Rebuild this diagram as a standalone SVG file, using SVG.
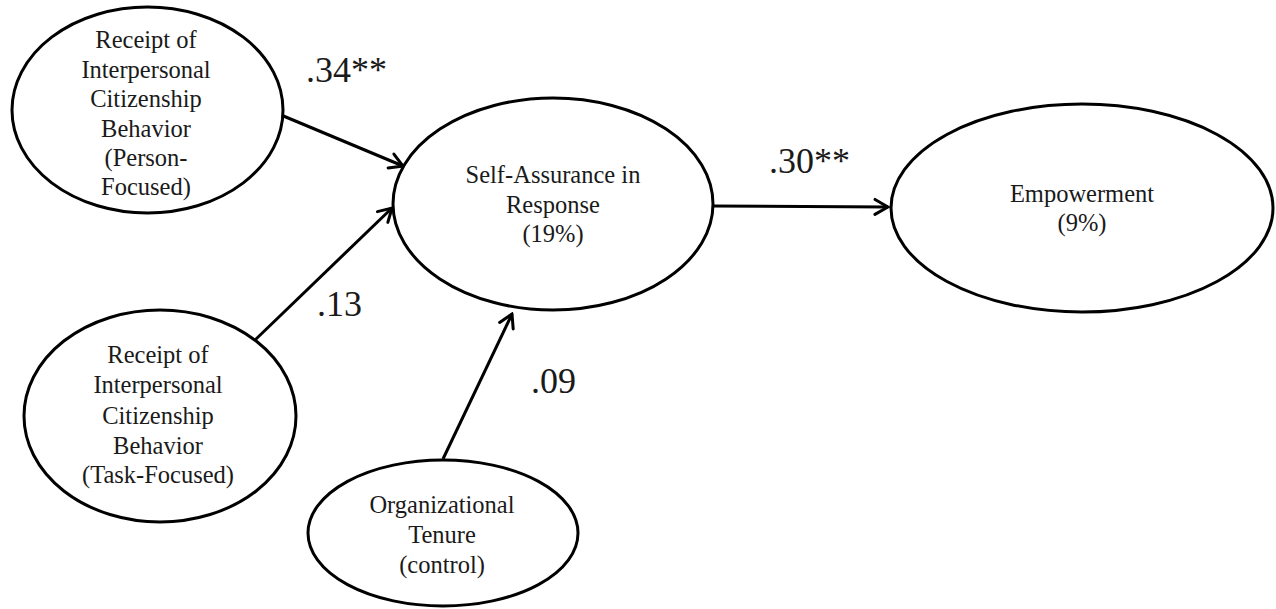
<svg xmlns="http://www.w3.org/2000/svg" width="1276" height="609" viewBox="0 0 1276 609">
  <style>
    .node ellipse { fill: #ffffff; stroke: #000000; stroke-width: 3; }
    .node text { font-family: "Liberation Serif", "Times New Roman", serif; font-size: 24.5px; fill: #1a1a1a; text-anchor: middle; }
    .edge line { stroke: #000000; stroke-width: 3; fill: none; }
    .coef { font-family: "Liberation Serif", "Times New Roman", serif; font-size: 36px; fill: #1a1a1a; }
  </style>
  <defs>
    <marker id="arrow" markerUnits="userSpaceOnUse" viewBox="-16 -10 18 20" refX="0" refY="0" markerWidth="18" markerHeight="20" orient="auto">
      <path d="M-13,-7.5 L0,0 L-13,7.5" fill="none" stroke="#000000" stroke-width="3" stroke-linecap="round" stroke-linejoin="miter"/>
    </marker>
  </defs>
  <rect x="0" y="0" width="1276" height="609" fill="#ffffff"/>

  <g id="connectors" class="edge">
    <line x1="281" y1="115" x2="403" y2="166" marker-end="url(#arrow)"/>
    <line x1="255" y1="340" x2="392" y2="208" marker-end="url(#arrow)"/>
    <line x1="443" y1="459" x2="512" y2="314" marker-end="url(#arrow)"/>
    <line x1="713" y1="206" x2="888" y2="207" marker-end="url(#arrow)"/>
  </g>

  <g id="node-person-focused" class="node">
    <ellipse cx="147.5" cy="110" rx="135.5" ry="103"/>
    <text x="146" y="48">Receipt of</text>
    <text x="146" y="78">Interpersonal</text>
    <text x="146" y="107">Citizenship</text>
    <text x="146" y="137">Behavior</text>
    <text x="146" y="166">(Person-</text>
    <text x="146" y="195">Focused)</text>
  </g>

  <g id="node-task-focused" class="node">
    <ellipse cx="160" cy="416" rx="136" ry="106"/>
    <text x="158" y="363">Receipt of</text>
    <text x="158" y="393">Interpersonal</text>
    <text x="158" y="424">Citizenship</text>
    <text x="158" y="454">Behavior</text>
    <text x="158" y="483">(Task-Focused)</text>
  </g>

  <g id="node-self-assurance" class="node">
    <ellipse cx="553" cy="204" rx="160" ry="106"/>
    <text x="553" y="183">Self-Assurance in</text>
    <text x="553" y="213">Response</text>
    <text x="553" y="242">(19%)</text>
  </g>

  <g id="node-empowerment" class="node">
    <ellipse cx="1082" cy="208" rx="191" ry="104"/>
    <text x="1082" y="202">Empowerment</text>
    <text x="1082" y="231">(9%)</text>
  </g>

  <g id="node-tenure" class="node">
    <ellipse cx="443" cy="533" rx="135" ry="73"/>
    <text x="442" y="513">Organizational</text>
    <text x="442" y="543">Tenure</text>
    <text x="442" y="573">(control)</text>
  </g>

  <g id="coefficients">
    <text class="coef" x="306" y="82">.34**</text>
    <text class="coef" x="769" y="173">.30**</text>
    <text class="coef" x="317" y="316">.13</text>
    <text class="coef" x="531" y="393">.09</text>
  </g>
</svg>
